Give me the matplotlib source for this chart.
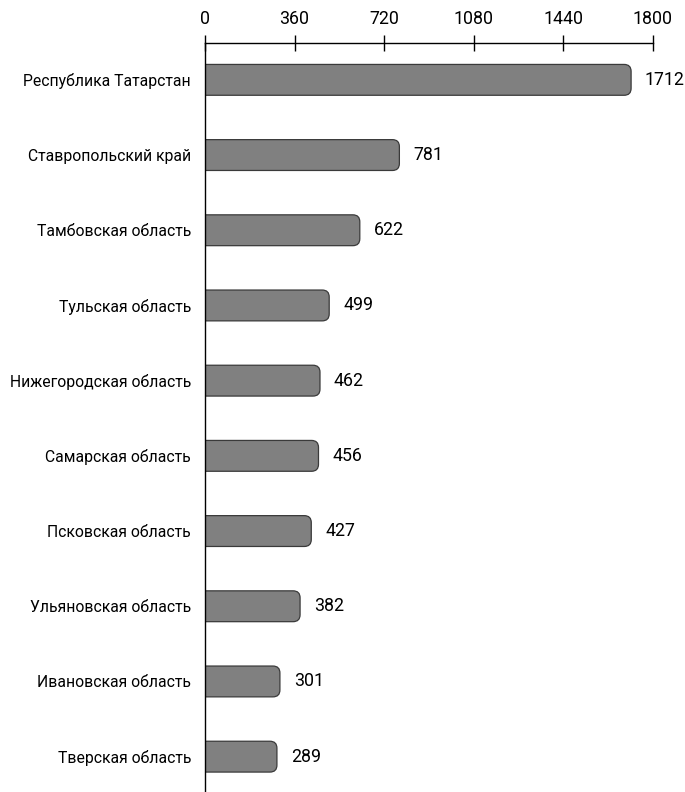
import matplotlib

matplotlib.use("Agg")
import matplotlib.pyplot as plt
import numpy as np
from matplotlib.patches import FancyBboxPatch

plt.rcParams["font.family"] = ["Roboto", "DejaVu Sans"]

regions = [
    "Республика Татарстан",
    "Ставропольский край",
    "Тамбовская область",
    "Тульская область",
    "Нижегородская область",
    "Самарская область",
    "Псковская область",
    "Ульяновская область",
    "Ивановская область",
    "Тверская область",
]
values = [1712, 781, 622, 499, 462, 456, 427, 382, 301, 289]
ticks = [0, 360, 720, 1080, 1440, 1800]

fig = plt.figure(figsize=(6.85, 7.92), dpi=100)
ax = fig.add_axes([205 / 685, 0, 448 / 685, 749 / 792])

ax.set_xlim(0, 1800)
ax.set_ylim(9.47, -0.49)

y = np.arange(len(regions))
bars = ax.barh(y, values, height=0.41, color="none", edgecolor="none")

# rounded ends: swap each bar for a rounded box, left end tucked behind the axis
rs = 28  # rounding in x data units
aspect = (1 / 75.2) / (1800 / 448)
for b in bars:
    x0, y0, w, h = b.get_x(), b.get_y(), b.get_width(), b.get_height()
    patch = FancyBboxPatch(
        (x0 - rs, y0), w + rs, h,
        boxstyle=f"round,pad=0,rounding_size={rs}",
        mutation_aspect=aspect,
        facecolor="#808080", edgecolor="#3a3a3a", linewidth=0.9,
    )
    ax.add_patch(patch)

for yi, v in zip(y, values):
    ax.annotate(f"{v}", xy=(v, yi), xytext=(10, 0), textcoords="offset points",
                va="center", ha="left", fontsize=12.8)

ax.set_xticks(ticks)
ax.xaxis.tick_top()
ax.tick_params(axis="x", direction="inout", length=11, width=1, labelsize=12.8, pad=5)
ax.set_yticks(y)
ax.set_yticklabels(regions, fontsize=11.3)
ax.tick_params(axis="y", length=0, pad=10)

for side in ("right", "bottom"):
    ax.spines[side].set_visible(False)
ax.spines["left"].set_linewidth(1)
ax.spines["top"].set_linewidth(1)
ax.spines["left"].set_zorder(5)

fig.savefig("out.png", dpi=100)
